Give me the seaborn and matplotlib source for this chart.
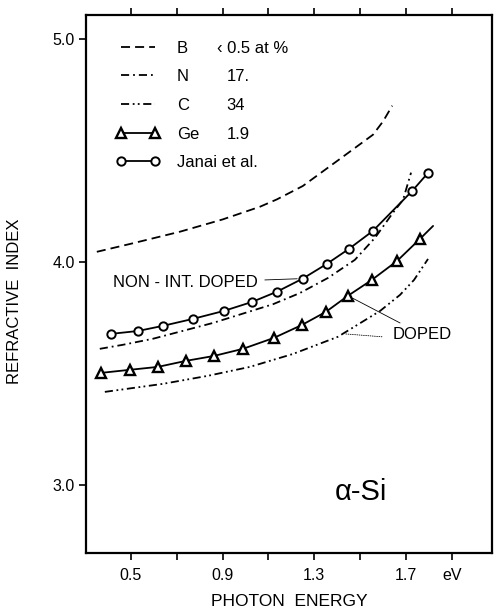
import matplotlib
matplotlib.use('Agg')
import matplotlib.pyplot as plt
import seaborn as sns
from matplotlib.lines import Line2D

sns.set_style('ticks')
plt.rcParams['font.family'] = ['Liberation Sans', 'DejaVu Sans']
for key in ['text.color', 'axes.labelcolor', 'xtick.color', 'ytick.color', 'axes.edgecolor']:
    plt.rcParams[key] = 'black'

# 数据
b_e = [0.352, 0.50, 0.714, 0.90, 1.063, 1.137, 1.25, 1.41, 1.556, 1.60, 1.64]
b_n = [4.045, 4.081, 4.135, 4.19, 4.247, 4.28, 4.34, 4.46, 4.57, 4.63, 4.70]

n_e = [0.365, 0.465, 0.596, 0.858, 1.12, 1.237, 1.36, 1.477, 1.565, 1.643, 1.687, 1.722]
n_n = [3.61, 3.628, 3.655, 3.726, 3.81, 3.86, 3.928, 4.009, 4.108, 4.22, 4.278, 4.40]

c_e = [0.387, 0.64, 0.836, 1.019, 1.207, 1.403, 1.587, 1.674, 1.735, 1.796]
c_n = [3.417, 3.453, 3.489, 3.529, 3.587, 3.664, 3.78, 3.852, 3.919, 4.013]

ge_e = [0.369, 0.496, 0.618, 0.74, 0.862, 0.989, 1.124, 1.246, 1.351, 1.447, 1.551, 1.661, 1.761, 1.818]
ge_n = [3.502, 3.516, 3.529, 3.556, 3.578, 3.61, 3.659, 3.717, 3.776, 3.848, 3.919, 4.004, 4.103, 4.161]

janai_e = [0.413, 0.531, 0.640, 0.770, 0.906, 1.028, 1.137, 1.250, 1.355, 1.451, 1.556, 1.727, 1.797]
janai_n = [3.677, 3.69, 3.713, 3.744, 3.78, 3.82, 3.866, 3.925, 3.991, 4.058, 4.139, 4.318, 4.40]

legend_names = ['B', 'N', 'C', 'Ge', 'Janai et al.']
legend_values = ['\u2039 0.5 at %', '17.', '34', '1.9', '']

x_ticks = [0.5, 0.7, 0.9, 1.1, 1.3, 1.5, 1.7, 1.9]
x_ticklabels = ['0.5', '', '0.9', '', '1.3', '', '1.7', 'eV']
y_ticks = [3.0, 4.0, 5.0]

fig = plt.figure(figsize=(4.96, 6.13), dpi=100)
ax = fig.add_axes([0.173, 0.098, 0.819, 0.878])

lw = 1.3
b_ls = (0, (5, 2.8))
n_ls = (0, (4.5, 2.2, 1, 2.2))
c_ls = (0, (4.5, 2, 1, 1.8, 1, 2))

sns.lineplot(x=b_e, y=b_n, ax=ax, color='k', lw=lw, linestyle=b_ls, sort=False)
sns.lineplot(x=n_e, y=n_n, ax=ax, color='k', lw=lw, linestyle=n_ls, sort=False)
sns.lineplot(x=c_e, y=c_n, ax=ax, color='k', lw=lw, linestyle=c_ls, sort=False)
sns.lineplot(x=ge_e, y=ge_n, ax=ax, color='k', lw=lw, sort=False)
sns.lineplot(x=ge_e[:-1], y=ge_n[:-1], ax=ax, color='k', lw=0, marker='^',
             markersize=7, markerfacecolor='white', markeredgecolor='k',
             markeredgewidth=1.7, sort=False)
sns.lineplot(x=janai_e, y=janai_n, ax=ax, color='k', lw=lw, marker='o',
             markersize=6, markerfacecolor='white', markeredgecolor='k',
             markeredgewidth=1.4, sort=False)

ax.set_xlim(0.304, 2.075)
ax.set_ylim(2.695, 5.108)
ax.set_xticks(x_ticks)
ax.set_xticklabels(x_ticklabels)
ax.set_yticks(y_ticks)
ax.set_yticklabels([f'{v:.1f}' for v in y_ticks])
ax.tick_params(axis='x', direction='out', top=True, length=5, width=1.2,
               labelsize=11.5, pad=6)
ax.tick_params(axis='y', direction='out', length=5, width=1.2, labelsize=11.5, pad=3)
for s in ax.spines.values():
    s.set_linewidth(1.6)
    s.set_color('k')

ax.set_xlabel('PHOTON  ENERGY', fontsize=12.5, labelpad=8)
ax.set_ylabel('REFRACTIVE  INDEX', fontsize=12)
ax.yaxis.set_label_coords(-0.158, 0.467)

# 图例
handles = [
    Line2D([], [], color='k', lw=lw, linestyle=b_ls),
    Line2D([], [], color='k', lw=lw, linestyle=n_ls),
    Line2D([], [], color='k', lw=lw, linestyle=c_ls),
    Line2D([], [], color='k', lw=lw, marker='^', markersize=7,
           markerfacecolor='white', markeredgewidth=1.7),
    Line2D([], [], color='k', lw=lw, marker='o', markersize=6,
           markerfacecolor='white', markeredgewidth=1.4),
]
leg = ax.legend(handles, legend_names, loc='upper left', bbox_to_anchor=(0.074, 0.952),
                frameon=False, fontsize=12, borderpad=0, borderaxespad=0,
                handlelength=2.65, handletextpad=1.0, labelspacing=0.82, numpoints=2)

fig.canvas.draw()
inv = ax.transAxes.inverted()
for i, (t, val) in enumerate(zip(leg.get_texts(), legend_values)):
    if not val:
        continue
    bb = t.get_window_extent()
    y0 = inv.transform((bb.x0, bb.y0))[1]
    x0 = 0.322 if i == 0 else 0.347
    ax.text(x0, y0, val, transform=ax.transAxes, fontsize=12, va='bottom', ha='left')

# 标注
ax.annotate('NON - INT. DOPED', xy=(janai_e[7], janai_n[7]), xytext=(0.421, 3.906),
            fontsize=12, va='center', ha='left',
            arrowprops=dict(arrowstyle='-', lw=0.6, color='k', shrinkA=3, shrinkB=4))
ax.text(1.643, 3.673, 'DOPED', fontsize=12, va='center', ha='left')
ax.annotate('', xy=(ge_e[9], ge_n[9]), xytext=(1.674, 3.726),
            arrowprops=dict(arrowstyle='-', lw=0.6, color='k', shrinkA=0, shrinkB=4))
ax.annotate('', xy=(1.434, 3.677), xytext=(1.595, 3.664),
            arrowprops=dict(arrowstyle='-', lw=0.6, color='k', linestyle=':',
                            shrinkA=0, shrinkB=0))
ax.text(1.39, 2.969, '\u03b1-Si', fontsize=21, va='center', ha='left')

fig.savefig('out.png', dpi=100)
